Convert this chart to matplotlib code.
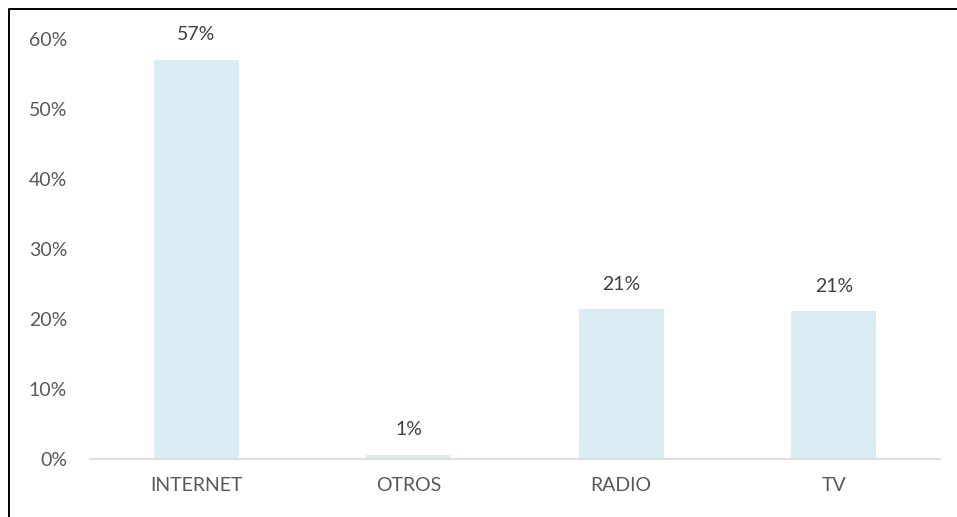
import matplotlib
matplotlib.use('Agg')
from matplotlib import pyplot as plt
from matplotlib.lines import Line2D
from matplotlib.ticker import PercentFormatter

categories = ['INTERNET', 'OTROS', 'RADIO', 'TV']
values = [0.57, 0.006, 0.214, 0.211]
labels = ['57%', '1%', '21%', '21%']
y_ticks = [0, 0.1, 0.2, 0.3, 0.4, 0.5, 0.6]

plt.rcParams['font.family'] = ['Lato', 'DejaVu Sans']

fig = plt.figure(figsize=(9.57, 5.17), dpi=100)
ax = fig.add_axes([90/957, 1 - 459/517, 850/957, 420/517])

x = list(range(len(categories)))
bars = ax.bar(x, values, width=0.4, color='#DAEDF3')

for b, lab in zip(bars, labels):
    ax.annotate(lab, (b.get_x() + b.get_width() / 2, b.get_height()),
                xytext=(0, 12), textcoords='offset points',
                ha='center', va='bottom', fontsize=14, color='#404040')

ax.set_xlim(-0.5, len(categories) - 0.5)
ax.set_ylim(0, 0.6)
ax.set_yticks(y_ticks)
ax.yaxis.set_major_formatter(PercentFormatter(1.0, decimals=0))
ax.set_xticks(x)
ax.set_xticklabels(categories)

for s in ['top', 'right', 'left']:
    ax.spines[s].set_visible(False)
ax.spines['bottom'].set_color('#D9D9D9')
ax.spines['bottom'].set_linewidth(1.2)
ax.tick_params(axis='both', length=0, labelsize=14, labelcolor='#595959')
ax.tick_params(axis='x', pad=13)
ax.tick_params(axis='y', pad=16.5)

# border on the top and left edges only
fig.add_artist(Line2D([8.5/957, 8.5/957, 1.0], [0, 1 - 9/517, 1 - 9/517],
                      transform=fig.transFigure, color='black', linewidth=1.4))

plt.savefig('out.png', dpi=100)
